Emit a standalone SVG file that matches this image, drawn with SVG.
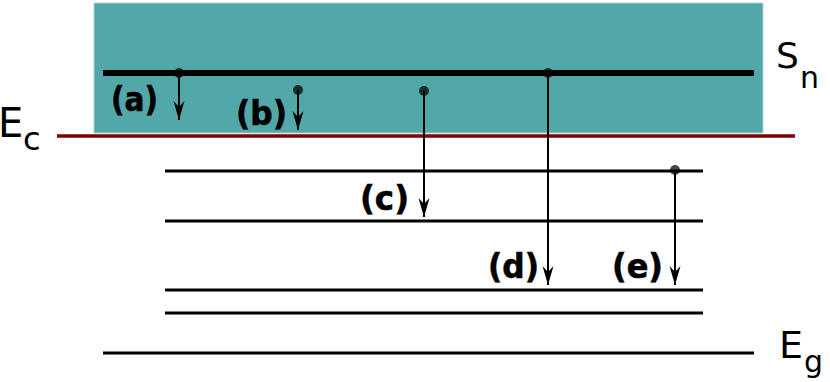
<svg xmlns="http://www.w3.org/2000/svg" width="830" height="382" viewBox="0 0 830 382">
<style>
.lvl{stroke:#000;stroke-width:3;fill:none}
.arr{stroke:#000;stroke-width:2;fill:none;marker-end:url(#ah)}
.dot{fill:#000;fill-opacity:0.72}
.lab{font-family:"DejaVu Sans",sans-serif;font-weight:bold;font-size:33px;fill:#000;stroke:#000;stroke-width:0.6}
.sym{font-family:"DejaVu Sans",sans-serif;fill:#000}
</style>
<defs>
<marker id="ah" markerWidth="20" markerHeight="12" viewBox="0 0 20 12" refX="19" refY="6" orient="auto" markerUnits="userSpaceOnUse">
<path d="M19,6 L0,0.5 L6,6 L0,11.5 Z" fill="#000"/>
</marker>
</defs>
<g id="band">
<rect x="94" y="3" width="669" height="130" fill="#52a8a8" stroke="#a9d3d3" stroke-width="1"/>
</g>
<g id="levels">
<line class="lvl" x1="103" y1="73" x2="754" y2="73" style="stroke-width:6"/>
<line x1="57" y1="136" x2="795" y2="136" stroke="#800000" stroke-width="3.5"/>
<line class="lvl" x1="165" y1="171" x2="703" y2="171"/>
<line class="lvl" x1="165" y1="221" x2="703" y2="221"/>
<line class="lvl" x1="165" y1="290" x2="703" y2="290"/>
<line class="lvl" x1="165" y1="313" x2="703" y2="313"/>
<line class="lvl" x1="103" y1="353" x2="754" y2="353"/>
</g>
<g id="connectors">
<line class="arr" x1="179" y1="73" x2="179" y2="120"/>
<line class="arr" x1="298" y1="90" x2="298" y2="130"/>
<line class="arr" x1="424" y1="91" x2="424" y2="217"/>
<line class="arr" x1="548" y1="73" x2="548" y2="285"/>
<line class="arr" x1="675" y1="170" x2="675" y2="285"/>
<circle class="dot" cx="179" cy="73" r="5"/>
<circle class="dot" cx="298" cy="90" r="5"/>
<circle class="dot" cx="424" cy="91" r="5"/>
<circle class="dot" cx="548" cy="73" r="5"/>
<circle class="dot" cx="675" cy="170" r="5"/>
</g>
<g id="labels">
<text class="lab" x="111" y="111" textLength="47" lengthAdjust="spacingAndGlyphs">(a)</text>
<text class="lab" x="236" y="125" textLength="51" lengthAdjust="spacingAndGlyphs">(b)</text>
<text class="lab" x="360" y="210" textLength="49" lengthAdjust="spacingAndGlyphs">(c)</text>
<text class="lab" x="488" y="278" textLength="51" lengthAdjust="spacingAndGlyphs">(d)</text>
<text class="lab" x="612" y="278" textLength="51" lengthAdjust="spacingAndGlyphs">(e)</text>
</g>
<g id="Ec"><text class="sym" x="-2" y="137" font-size="40">E</text><text class="sym" x="23" y="150" font-size="32">c</text></g>
<g id="Sn"><text class="sym" x="776" y="68" font-size="36">S</text><text class="sym" x="800" y="88" font-size="30">n</text></g>
<g id="Eg"><text class="sym" x="779" y="358" font-size="38">E</text><text class="sym" x="804" y="372" font-size="30">g</text></g>
</svg>
